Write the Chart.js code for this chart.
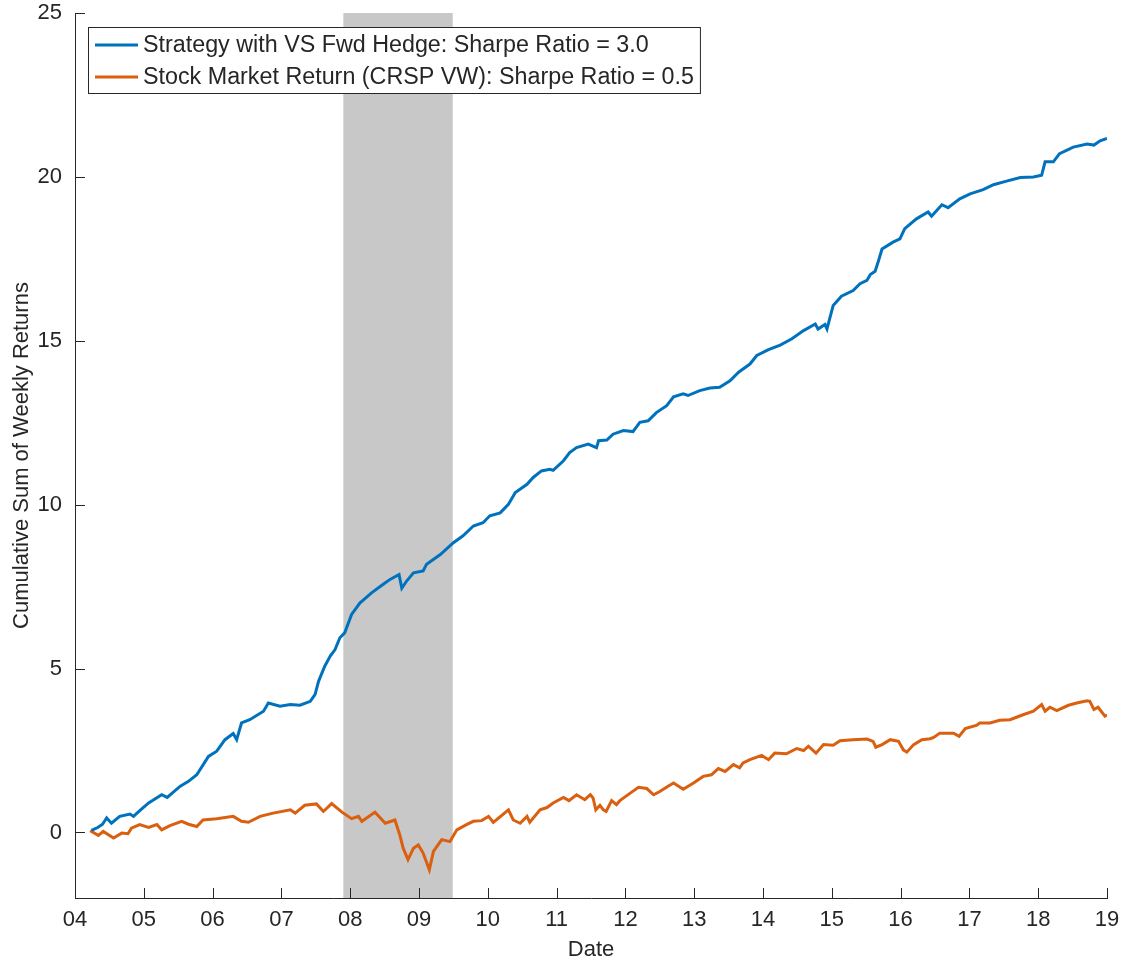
<!DOCTYPE html>
<html>
<head>
<meta charset="utf-8">
<title>Cumulative Sum of Weekly Returns</title>
<script src="https://cdn.jsdelivr.net/npm/chart.js@4.4.1/dist/chart.umd.min.js"></script>
<style>
body { margin: 0; background: #fff; }
#wrap { width: 1124px; height: 965px; position: relative; }
</style>
</head>
<body>
<div id="wrap"><canvas id="chart"></canvas></div>
<script>
// series (x = fractional year)
const stratLabel = 'Strategy with VS Fwd Hedge: Sharpe Ratio = 3.0';
const stratDates = [2004.24, 2004.33, 2004.40, 2004.46, 2004.53, 2004.65, 2004.80, 2004.85, 2004.95, 2005.07,
  2005.26, 2005.34, 2005.53, 2005.65, 2005.77, 2005.94, 2006.06, 2006.18, 2006.30, 2006.35,
  2006.42, 2006.54, 2006.74, 2006.81, 2006.98, 2007.13, 2007.27, 2007.42, 2007.49, 2007.54,
  2007.63, 2007.71, 2007.78, 2007.85, 2007.92, 2008.02, 2008.14, 2008.31, 2008.48, 2008.58,
  2008.71, 2008.75, 2008.82, 2008.92, 2009.06, 2009.11, 2009.31, 2009.50, 2009.64, 2009.79,
  2009.93, 2010.03, 2010.18, 2010.30, 2010.40, 2010.57, 2010.66, 2010.78, 2010.90, 2010.95,
  2011.10, 2011.19, 2011.29, 2011.46, 2011.58, 2011.61, 2011.73, 2011.82, 2011.97, 2012.11,
  2012.21, 2012.33, 2012.45, 2012.60, 2012.70, 2012.84, 2012.91, 2013.08, 2013.23, 2013.37,
  2013.52, 2013.65, 2013.81, 2013.91, 2014.08, 2014.25, 2014.42, 2014.59, 2014.76, 2014.80,
  2014.90, 2014.93, 2015.02, 2015.14, 2015.31, 2015.41, 2015.51, 2015.56, 2015.63, 2015.68,
  2015.73, 2015.89, 2015.99, 2016.06, 2016.23, 2016.40, 2016.45, 2016.60, 2016.69, 2016.86,
  2017.01, 2017.20, 2017.35, 2017.54, 2017.74, 2017.93, 2018.05, 2018.10, 2018.22, 2018.31,
  2018.51, 2018.71, 2018.81, 2018.90, 2019.00];
const stratValues = [0.06, 0.15, 0.25, 0.44, 0.28, 0.49, 0.56, 0.49, 0.68, 0.90,
  1.15, 1.07, 1.41, 1.56, 1.76, 2.32, 2.48, 2.83, 3.02, 2.83,
  3.34, 3.44, 3.70, 3.95, 3.85, 3.90, 3.88, 4.00, 4.21, 4.61,
  5.07, 5.38, 5.58, 5.94, 6.09, 6.65, 7.00, 7.31, 7.57, 7.72,
  7.87, 7.45, 7.67, 7.92, 7.98, 8.18, 8.48, 8.84, 9.05, 9.35,
  9.45, 9.66, 9.75, 10.01, 10.37, 10.62, 10.83, 11.03, 11.08, 11.05,
  11.34, 11.59, 11.74, 11.85, 11.74, 11.95, 11.97, 12.15, 12.26, 12.23,
  12.51, 12.56, 12.81, 13.02, 13.29, 13.38, 13.33, 13.48, 13.56, 13.58,
  13.78, 14.05, 14.29, 14.55, 14.73, 14.87, 15.06, 15.31, 15.51, 15.36,
  15.50, 15.36, 16.08, 16.36, 16.53, 16.74, 16.84, 17.02, 17.12, 17.45,
  17.80, 18.01, 18.11, 18.42, 18.72, 18.93, 18.80, 19.15, 19.06, 19.33,
  19.48, 19.61, 19.76, 19.87, 19.98, 20.00, 20.05, 20.46, 20.46, 20.71,
  20.91, 21.00, 20.97, 21.10, 21.17];

const mktLabel = 'Stock Market Return (CRSP VW): Sharpe Ratio = 0.5';
const mktDates = [2004.22, 2004.34, 2004.41, 2004.56, 2004.68, 2004.77, 2004.82, 2004.94, 2005.07, 2005.19,
  2005.26, 2005.38, 2005.55, 2005.65, 2005.77, 2005.86, 2006.06, 2006.30, 2006.42, 2006.52,
  2006.69, 2006.88, 2007.13, 2007.20, 2007.34, 2007.51, 2007.61, 2007.73, 2007.88, 2008.02,
  2008.12, 2008.17, 2008.36, 2008.51, 2008.65, 2008.72, 2008.77, 2008.84, 2008.92, 2008.99,
  2009.06, 2009.15, 2009.21, 2009.33, 2009.45, 2009.55, 2009.69, 2009.79, 2009.91, 2010.01,
  2010.08, 2010.30, 2010.37, 2010.47, 2010.57, 2010.61, 2010.76, 2010.86, 2010.95, 2011.10,
  2011.18, 2011.29, 2011.41, 2011.49, 2011.53, 2011.57, 2011.63, 2011.68, 2011.72, 2011.80,
  2011.87, 2011.92, 2012.07, 2012.19, 2012.31, 2012.41, 2012.50, 2012.62, 2012.70, 2012.84,
  2012.99, 2013.13, 2013.25, 2013.35, 2013.45, 2013.57, 2013.66, 2013.71, 2013.81, 2013.98,
  2014.08, 2014.17, 2014.34, 2014.49, 2014.59, 2014.66, 2014.77, 2014.88, 2015.02, 2015.12,
  2015.31, 2015.51, 2015.60, 2015.64, 2015.73, 2015.85, 2015.97, 2016.04, 2016.09, 2016.19,
  2016.31, 2016.43, 2016.48, 2016.57, 2016.77, 2016.85, 2016.94, 2017.11, 2017.15, 2017.30,
  2017.44, 2017.59, 2017.78, 2017.93, 2018.05, 2018.10, 2018.17, 2018.27, 2018.44, 2018.56,
  2018.71, 2018.75, 2018.81, 2018.87, 2018.97, 2019.00];
const mktValues = [0.05, -0.09, 0.03, -0.17, -0.02, -0.04, 0.13, 0.24, 0.15, 0.24,
  0.08, 0.21, 0.34, 0.25, 0.18, 0.38, 0.42, 0.49, 0.34, 0.31,
  0.49, 0.59, 0.69, 0.59, 0.83, 0.87, 0.64, 0.88, 0.62, 0.42,
  0.49, 0.34, 0.62, 0.28, 0.38, -0.07, -0.48, -0.83, -0.48, -0.38,
  -0.63, -1.14, -0.58, -0.22, -0.28, 0.08, 0.24, 0.34, 0.36, 0.49,
  0.31, 0.69, 0.38, 0.28, 0.49, 0.31, 0.69, 0.76, 0.90, 1.07,
  0.97, 1.15, 1.00, 1.15, 1.05, 0.69, 0.83, 0.69, 0.64, 0.97,
  0.85, 0.97, 1.20, 1.38, 1.34, 1.15, 1.25, 1.41, 1.51, 1.32,
  1.51, 1.71, 1.76, 1.95, 1.86, 2.07, 1.97, 2.12, 2.22, 2.35,
  2.22, 2.42, 2.40, 2.56, 2.50, 2.63, 2.42, 2.68, 2.66, 2.80,
  2.83, 2.85, 2.78, 2.60, 2.68, 2.83, 2.78, 2.52, 2.45, 2.68,
  2.83, 2.86, 2.90, 3.03, 3.03, 2.93, 3.17, 3.27, 3.34, 3.34,
  3.42, 3.44, 3.59, 3.70, 3.90, 3.70, 3.82, 3.72, 3.88, 3.95,
  4.02, 4.00, 3.75, 3.82, 3.55, 3.58];

// NBER recession band, Dec 2007 - Jun 2009
const recession = [2007.90, 2009.49];

const yearTicks = [2004, 2005, 2006, 2007, 2008, 2009, 2010, 2011, 2012, 2013, 2014, 2015, 2016, 2017, 2018, 2019];
const yTicks = [0, 5, 10, 15, 20, 25];

const blue = '#0072BD';
const orange = '#DA5F0E';
const axisColor = '#262626';
const fontFamily = '"Liberation Sans", Arial, Helvetica, sans-serif';

function toPoints(dates, values) {
    return dates.map((d, i) => ({ x: d, y: values[i] }));
}

// grey band behind everything
const recessionShade = {
    id: 'recessionShade',
    beforeDraw(chart) {
        const { ctx, chartArea, scales } = chart;
        const x0 = scales.x.getPixelForValue(recession[0]);
        const x1 = scales.x.getPixelForValue(recession[1]);
        ctx.save();
        ctx.fillStyle = 'rgb(200,200,200)';
        ctx.fillRect(x0, chartArea.top, x1 - x0, chartArea.bottom - chartArea.top);
        ctx.restore();
    }
};

// matlab style ticks pointing inward
const innerTicks = {
    id: 'innerTicks',
    afterDraw(chart) {
        const { ctx, chartArea, scales } = chart;
        ctx.save();
        ctx.strokeStyle = axisColor;
        ctx.lineWidth = 1;
        ctx.beginPath();
        scales.x.ticks.forEach(t => {
            const px = Math.round(scales.x.getPixelForValue(t.value)) + 0.5;
            ctx.moveTo(px, chartArea.bottom);
            ctx.lineTo(px, chartArea.bottom - 10);
        });
        scales.y.ticks.forEach(t => {
            const py = Math.round(scales.y.getPixelForValue(t.value)) + 0.5;
            ctx.moveTo(chartArea.left, py);
            ctx.lineTo(chartArea.left + 10, py);
        });
        ctx.stroke();
        ctx.restore();
    }
};

// boxed legend in the upper left corner of the axes
const boxLegend = {
    id: 'boxLegend',
    afterDraw(chart) {
        const { ctx, chartArea } = chart;
        const sets = chart.data.datasets;
        ctx.save();
        ctx.font = '23.3px ' + fontFamily;
        const textW = Math.max(...sets.map(s => ctx.measureText(s.label).width));
        const left = chartArea.left + 13;
        const top = chartArea.top + 14;
        const rowH = 32;
        const w = 55 + textW + 6;
        const h = rowH * sets.length + 2;
        ctx.fillStyle = '#fff';
        ctx.fillRect(left, top, w, h);
        ctx.strokeStyle = axisColor;
        ctx.lineWidth = 1;
        ctx.strokeRect(left + 0.5, top + 0.5, w, h);
        sets.forEach((s, i) => {
            const cy = top + 18 + i * rowH;
            ctx.strokeStyle = s.borderColor;
            ctx.lineWidth = 3;
            ctx.beginPath();
            ctx.moveTo(left + 7, cy);
            ctx.lineTo(left + 50, cy);
            ctx.stroke();
            ctx.fillStyle = axisColor;
            ctx.textBaseline = 'middle';
            ctx.fillText(s.label, left + 55, cy + 1);
        });
        ctx.restore();
    }
};

new Chart(document.getElementById('chart'), {
    type: 'line',
    data: {
        datasets: [
            {
                label: stratLabel,
                data: toPoints(stratDates, stratValues),
                borderColor: blue,
                borderWidth: 3,
                pointRadius: 0,
                tension: 0
            },
            {
                label: mktLabel,
                data: toPoints(mktDates, mktValues),
                borderColor: orange,
                borderWidth: 3,
                pointRadius: 0,
                tension: 0
            }
        ]
    },
    options: {
        responsive: true,
        maintainAspectRatio: false,
        animation: false,
        layout: { padding: { left: 0, top: 13, right: 17, bottom: 0 } },
        plugins: {
            legend: { display: false },
            tooltip: { enabled: false }
        },
        scales: {
            x: {
                type: 'linear',
                min: 2004,
                max: 2019,
                afterBuildTicks: s => { s.ticks = yearTicks.map(v => ({ value: v })); },
                afterFit: s => { s.height = 67; s.paddingLeft = 0; s.paddingRight = 0; },
                grid: { display: false, drawTicks: false },
                border: { display: true, color: axisColor, width: 1 },
                ticks: {
                    autoSkip: false,
                    maxRotation: 0,
                    padding: 9,
                    color: axisColor,
                    font: { family: fontFamily, size: 22 },
                    callback: v => String(v).slice(2)
                },
                title: {
                    display: true,
                    text: 'Date',
                    color: axisColor,
                    font: { family: fontFamily, size: 22 },
                    padding: { top: 0, bottom: 2 }
                }
            },
            y: {
                min: -2,
                max: 25,
                afterBuildTicks: s => { s.ticks = yTicks.map(v => ({ value: v })); },
                afterFit: s => { s.width = 75; s.paddingTop = 0; s.paddingBottom = 0; },
                grid: { display: false, drawTicks: false },
                border: { display: true, color: axisColor, width: 1 },
                ticks: {
                    padding: 13,
                    color: axisColor,
                    font: { family: fontFamily, size: 22 }
                },
                title: {
                    display: true,
                    text: 'Cumulative Sum of Weekly Returns',
                    color: axisColor,
                    font: { family: fontFamily, size: 22 },
                    padding: { top: 9, bottom: 0 }
                }
            }
        }
    },
    plugins: [recessionShade, innerTicks, boxLegend]
});
</script>
</body>
</html>
